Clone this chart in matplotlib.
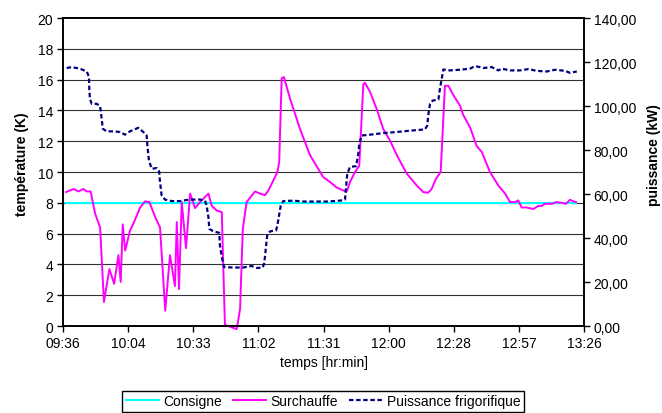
import numpy as np
import matplotlib
matplotlib.use("Agg")
import matplotlib.pyplot as plt

plt.rcParams['font.family'] = ['Liberation Sans', 'DejaVu Sans']
plt.rcParams['font.size'] = 10

# Donnees (temps en minutes depuis 09:36)
t_surch = [1.3, 4.6, 6.8, 9.0, 10.5, 12.2, 14.2, 16.4, 18.1, 20.5,
           22.6, 24.5, 25.5, 26.4, 27.5, 29.6, 31.4, 34.1, 36.3, 38.2,
           40.7, 42.9, 45.2, 47.3, 49.5, 50.3, 51.3, 52.5, 54.4, 56.2,
           58.4, 60.6, 64.3, 65.8, 68.0, 70.2, 71.6, 76.8, 78.3, 79.5,
           81.2, 84.9, 87.1, 89.3, 90.8, 93.0, 94.8, 95.6, 96.7, 97.7,
           100.4, 104.8, 109.2, 112.9, 115.1, 118.1, 121.0, 124.0, 125.5, 126.9,
           129.1, 131.0, 132.8, 133.5, 135.8, 138.7, 141.6, 144.6, 147.6, 152.0,
           156.4, 159.3, 161.5, 163.0, 164.9, 167.0, 168.9, 170.4, 172.6, 175.6,
           177.0, 180.0, 182.9, 185.2, 188.8, 192.5, 195.5, 197.7, 199.9, 201.3,
           202.8, 205.0, 208.0, 210.2, 211.7, 213.1, 216.1, 218.3, 220.5, 222.4,
           224.2, 225.7, 226.9]
surchauffe = [8.7, 8.9, 8.74, 8.9, 8.74, 8.74, 7.3, 6.4, 1.56, 3.7,
              2.75, 4.6, 2.86, 6.6, 4.9, 6.2, 6.75, 7.7, 8.1, 8.05,
              7.1, 6.4, 1.0, 4.6, 2.6, 6.75, 2.4, 8.05, 5.06, 8.6,
              7.66, 8.05, 8.6, 7.8, 7.5, 7.4, 0.08, -0.2, 1.1, 6.3,
              8.05, 8.74, 8.6, 8.5, 8.8, 9.45, 10.0, 10.65, 16.1, 16.17,
              14.76, 12.8, 11.1, 10.2, 9.67, 9.35, 9.0, 8.8, 8.74, 9.35,
              10.0, 10.4, 15.7, 15.8, 15.2, 14.1, 12.8, 12.05, 11.1, 9.9,
              9.13, 8.7, 8.66, 8.9, 9.56, 10.0, 15.6, 15.6, 15.0, 14.3,
              13.7, 12.9, 11.7, 11.3, 10.0, 9.13, 8.6, 8.05, 8.05, 8.16,
              7.7, 7.7, 7.6, 7.8, 7.8, 7.94, 7.94, 8.05, 8.0, 7.94,
              8.2, 8.1, 8.05]

t_consigne = [1.3, 226.9]
consigne = [8.0, 8.0]

t_puiss = [1.6, 3.8, 7.5, 10.5, 11.5, 11.6, 11.9, 12.7, 14.9, 16.4,
           17.1, 17.6, 19.3, 22.2, 25.2, 27.4, 29.6, 33.3, 35.5, 37.0,
           37.3, 38.0, 39.2, 41.4, 42.5, 42.9, 43.6, 45.1, 48.1, 51.7,
           54.7, 57.6, 60.6, 62.8, 63.5, 64.3, 64.7, 66.5, 69.1, 69.4,
           70.2, 71.2, 75.3, 79.7, 83.4, 85.7, 88.3, 88.9, 89.3, 89.8,
           90.3, 91.5, 94.2, 94.8, 95.4, 96.3, 97.4, 101.8, 106.3, 112.2,
           116.6, 122.5, 124.7, 125.1, 125.7, 126.9, 129.6, 130.6, 131.0, 132.1,
           135.8, 141.6, 147.6, 153.4, 160.1, 161.1, 161.5, 162.3, 163.5, 166.0,
           166.7, 167.6, 168.2, 171.1, 175.6, 180.0, 182.2, 185.9, 189.6, 192.5,
           194.0, 197.7, 202.1, 205.8, 209.5, 213.9, 217.6, 222.0, 224.2, 227.2]
puissance = [117.3, 117.7, 117.0, 115.7, 113.2, 107.9, 103.3, 101.0, 101.0, 100.0,
             94.2, 89.7, 88.5, 88.5, 88.2, 87.0, 88.5, 90.1, 88.2, 86.6,
             82.1, 75.3, 71.5, 71.8, 70.3, 65.5, 59.4, 57.5, 56.8, 56.8,
             57.3, 57.5, 57.5, 57.0, 54.8, 49.5, 44.2, 43.0, 42.4, 36.6,
             31.4, 26.8, 26.6, 26.6, 27.3, 26.4, 26.6, 28.3, 31.4, 36.6,
             41.2, 43.0, 43.5, 45.7, 49.5, 54.8, 56.8, 57.0, 56.6, 56.6,
             56.6, 57.0, 57.5, 62.4, 69.2, 72.3, 72.7, 78.3, 82.9, 86.6,
             87.0, 87.7, 88.2, 88.8, 89.4, 91.2, 95.7, 101.0, 102.5, 103.0,
             107.9, 113.2, 116.6, 116.2, 116.5, 117.0, 118.2, 117.3, 117.7, 116.2,
             117.0, 116.2, 116.2, 116.8, 116.0, 115.7, 116.5, 116.0, 115.1, 115.7]

x_labels = ["09:36", "10:04", "10:33", "11:02", "11:31", "12:00", "12:28", "12:57", "13:26"]
y2_labels = ["0,00", "20,00", "40,00", "60,00", "80,00", "100,00", "120,00", "140,00"]

fig = plt.figure(figsize=(6.62, 4.14), dpi=100)
ax = fig.add_axes([0.0952, 0.21, 0.7870, 0.744])

ax.plot(t_consigne, consigne, color='#00FFFF', lw=1.5, label='Consigne', zorder=3)
ax.plot(t_surch, surchauffe, color='#FF00FF', lw=1.4, label='Surchauffe', zorder=4, clip_on=False)

ax.set_xlim(0, 230.4)
ax.set_ylim(0, 20)
ax.set_yticks(np.arange(0, 21, 2))
ax.set_xticks(np.linspace(0, 230.4, len(x_labels)))
ax.set_xticklabels(x_labels)
for yv in np.arange(2, 20, 2):
    ax.axhline(yv, color='#333333', lw=0.8, zorder=1)
ax.tick_params(direction='out', length=4, width=1, pad=3)
ax.set_xlabel("temps [hr:min]", labelpad=4)
ax.set_ylabel("température (K)", fontweight='bold', labelpad=6)
ax.yaxis.label.set_y(0.53)
for s in ax.spines.values():
    s.set_linewidth(1.2)

ax2 = ax.twinx()
ax2.plot(t_puiss, puissance, color='#000080', lw=1.6, ls=(0, (2.0, 1.2)),
         label='Puissance frigorifique', zorder=5)
ax2.set_ylim(0, 140)
ax2.set_yticks(np.arange(0, 141, 20))
ax2.set_yticklabels(y2_labels)
ax2.tick_params(direction='out', length=4, width=1, pad=3)
ax2.set_ylabel("puissance (kW)", fontweight='bold', labelpad=8)
ax2.yaxis.label.set_y(0.56)
for s in ax2.spines.values():
    s.set_linewidth(1.2)

h1, l1 = ax.get_legend_handles_labels()
h2, l2 = ax2.get_legend_handles_labels()
leg = fig.legend(h1 + h2, l1 + l2, loc='lower center', bbox_to_anchor=(0.488, 0.0),
                 ncol=3, frameon=True, fancybox=False, edgecolor='black',
                 framealpha=1, handlelength=2.4, handletextpad=0.3,
                 columnspacing=0.8, borderpad=0.25, borderaxespad=0.1)
leg.get_frame().set_linewidth(1.0)

fig.savefig("out.png", dpi=100)
